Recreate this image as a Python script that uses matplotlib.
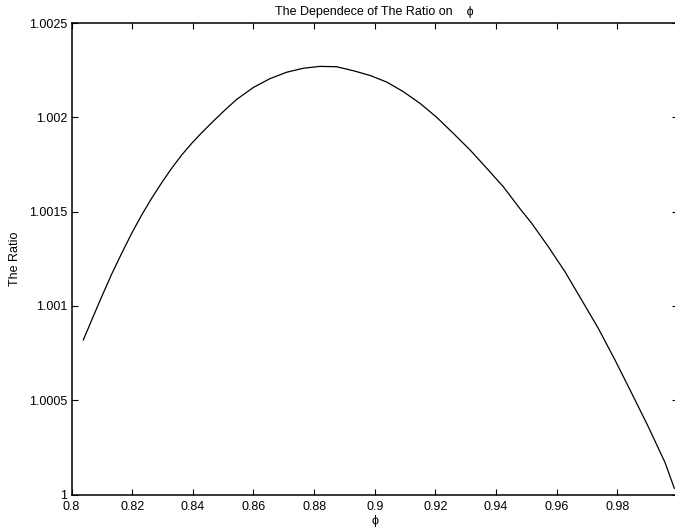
import matplotlib
matplotlib.use("Agg")
import matplotlib.pyplot as plt

# ── data ──────────────────────────────────────────────────────────────────────
phi = [0.80389, 0.80666, 0.80996, 0.81326, 0.81655, 0.81985, 0.82315,
       0.82645, 0.82974, 0.83304, 0.83634, 0.83964, 0.84293, 0.84623,
       0.85062, 0.85448, 0.85995, 0.86546, 0.87096, 0.87644, 0.88195,
       0.88745, 0.89293, 0.89843, 0.90394, 0.90941, 0.91492, 0.92043,
       0.92590, 0.93141, 0.93692, 0.94239, 0.94790, 0.95176, 0.95723,
       0.96274, 0.96824, 0.97372, 0.97923, 0.98473, 0.99021, 0.99571,
       0.99878]
ratio = [1.000819, 1.000925, 1.001049, 1.001169, 1.001279, 1.001385,
         1.001482, 1.001571, 1.001653, 1.001730, 1.001800, 1.001862,
         1.001918, 1.001971, 1.002039, 1.002095, 1.002158, 1.002205,
         1.002239, 1.002260, 1.002270, 1.002268, 1.002247, 1.002222,
         1.002187, 1.002136, 1.002074, 1.002000, 1.001915, 1.001827,
         1.001730, 1.001632, 1.001515, 1.001438, 1.001314, 1.001181,
         1.001031, 1.000881, 1.000713, 1.000537, 1.000359, 1.000170,
         1.000033]

x_ticks = [0.8, 0.82, 0.84, 0.86, 0.88, 0.9, 0.92, 0.94, 0.96, 0.98]
x_labels = ["0.8", "0.82", "0.84", "0.86", "0.88", "0.9", "0.92", "0.94",
            "0.96", "0.98"]
y_ticks = [1.0, 1.0005, 1.001, 1.0015, 1.002, 1.0025]
y_labels = ["1", "1.0005", "1.001", "1.0015", "1.002", "1.0025"]

TITLE = "The Dependece of The Ratio on    \u03d5"
XLABEL = "\u03d5"
YLABEL = "The Ratio"

FONT = ["Liberation Sans", "DejaVu Sans"]
plt.rcParams["font.family"] = FONT
plt.rcParams["font.size"] = 9

W, H = 675, 532
fig = plt.figure(figsize=(W / 100, H / 100), dpi=100)
# axes box in pixels: x 71.5 -> 678 (right edge just off the canvas), y 23 -> 494.5
ax = fig.add_axes([71.5 / W, (H - 494.5) / H, (678 - 71.5) / W, (494.5 - 23) / H])

ax.plot(phi, ratio, color="black", lw=0.9)

ax.set_xlim(0.8, 1.0)
ax.set_ylim(1.0, 1.0025)
ax.set_xticks(x_ticks)
ax.set_xticklabels(x_labels)
ax.set_yticks(y_ticks)
ax.set_yticklabels(y_labels)
ax.tick_params(direction="in", length=4.5, width=0.8, top=True, right=True,
               colors="black", labelsize=9)
ax.tick_params(axis="x", pad=5)
ax.tick_params(axis="y", pad=3)
for sp in ax.spines.values():
    sp.set_linewidth(1.1)

ax.set_title(TITLE, fontsize=9, pad=6)
ax.set_xlabel(XLABEL, fontsize=9, labelpad=1)
ax.set_ylabel(YLABEL, fontsize=9, labelpad=6)

fig.savefig("out.png", dpi=100)
